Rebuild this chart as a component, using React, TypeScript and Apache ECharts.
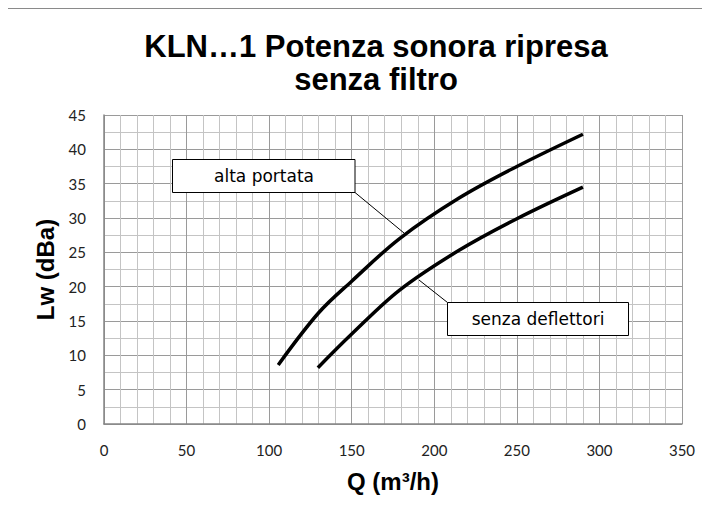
import React, { useEffect, useRef } from "react";
import * as echarts from "echarts";

const titleText = "KLN…1 Potenza sonora ripresa\nsenza filtro";
const xAxisTitle = "Q (m³/h)";
const yAxisTitle = "Lw (dBa)";

const altaQ = [105.5, 130, 150, 179, 215, 250, 290];
const altaLw = [8.6, 16.2, 20.8, 27.0, 32.9, 37.5, 42.2];

const senzaQ = [129.5, 150, 179, 215, 250, 290];
const senzaLw = [8.2, 13.1, 19.5, 25.3, 29.9, 34.5];

const labelAlta = "alta portata";
const labelSenza = "senza deflettori";

export default function App() {
  const ref = useRef<HTMLDivElement>(null);
  useEffect(() => {
    if (!ref.current) return;
    const chart = echarts.init(ref.current, undefined, { renderer: "svg" });
    const pts = (xs: number[], ys: number[]) => xs.map((x, i) => [x, ys[i]]);
    const labelFont = "Liberation Sans, Arial, sans-serif";
    chart.setOption({
      animation: false,
      backgroundColor: "#ffffff",
      title: {
        text: titleText,
        left: 376,
        top: 30,
        padding: 0,
        textAlign: "center",
        textStyle: {
          fontFamily: labelFont,
          fontWeight: "bold",
          fontSize: 31,
          lineHeight: 33,
          color: "#000",
        },
      },
      grid: { left: 104, right: 28, top: 115, bottom: 84 },
      xAxis: {
        type: "value",
        min: 0,
        max: 350,
        interval: 50,
        name: xAxisTitle,
        nameLocation: "middle",
        nameGap: 45,
        nameTextStyle: { fontFamily: labelFont, fontWeight: "bold", fontSize: 24, color: "#000" },
        axisLine: { show: true, lineStyle: { color: "#868686", width: 1.5 } },
        axisTick: { show: false },
        axisLabel: { fontFamily: "Lato, sans-serif", fontSize: 15, color: "#222", margin: 18 },
        splitLine: { show: true, lineStyle: { color: "#9a9a9a", width: 1 } },
        minorTick: { show: false, splitNumber: 5 },
        minorSplitLine: { show: true, lineStyle: { color: "#c4c4c4", width: 1 } },
      },
      yAxis: {
        type: "value",
        min: 0,
        max: 45,
        interval: 5,
        name: yAxisTitle,
        nameLocation: "middle",
        nameGap: 47,
        nameTextStyle: { fontFamily: labelFont, fontWeight: "bold", fontSize: 24, color: "#000" },
        axisLine: { show: true, lineStyle: { color: "#868686", width: 1.5 } },
        axisTick: { show: false },
        axisLabel: { fontFamily: "Lato, sans-serif", fontSize: 15, color: "#222", margin: 18 },
        splitLine: { show: true, lineStyle: { color: "#9a9a9a", width: 1 } },
        minorTick: { show: false, splitNumber: 2 },
        minorSplitLine: { show: true, lineStyle: { color: "#c4c4c4", width: 1 } },
      },
      series: [
        {
          type: "line",
          name: labelAlta,
          data: pts(altaQ, altaLw),
          smooth: 0.35,
          showSymbol: false,
          symbol: "none",
          lineStyle: { color: "#000", width: 3.5 },
          z: 5,
        },
        {
          type: "line",
          name: labelSenza,
          data: pts(senzaQ, senzaLw),
          smooth: 0.35,
          showSymbol: false,
          symbol: "none",
          lineStyle: { color: "#000", width: 3.5 },
          z: 5,
        },
      ],
      graphic: [
        {
          type: "rect",
          shape: { x: 4.5, y: 8.5, width: 702, height: 520 },
          style: { fill: "none", stroke: "#8a8a8a", lineWidth: 1 },
          silent: true,
          z: 0,
        },
        {
          type: "line",
          shape: { x1: 355, y1: 192.5, x2: 404, y2: 233 },
          style: { stroke: "#000", lineWidth: 1 },
          z: 10,
        },
        {
          type: "rect",
          shape: { x: 172.5, y: 159.5, width: 182.5, height: 33 },
          style: { fill: "#fff", stroke: "#000", lineWidth: 1 },
          z: 11,
        },
        {
          type: "text",
          x: 264,
          y: 176,
          style: {
            text: labelAlta,
            fill: "#000",
            font: "17px DejaVu Sans, sans-serif",
            align: "center",
            verticalAlign: "middle",
          },
          z: 12,
        },
        {
          type: "line",
          shape: { x1: 447.5, y1: 302.5, x2: 419, y2: 280 },
          style: { stroke: "#000", lineWidth: 1 },
          z: 10,
        },
        {
          type: "rect",
          shape: { x: 447.5, y: 302.5, width: 181, height: 33 },
          style: { fill: "#fff", stroke: "#000", lineWidth: 1 },
          z: 11,
        },
        {
          type: "text",
          x: 538,
          y: 319,
          style: {
            text: labelSenza,
            fill: "#000",
            font: "17px DejaVu Sans, sans-serif",
            align: "center",
            verticalAlign: "middle",
          },
          z: 12,
        },
      ],
    });
    return () => chart.dispose();
  }, []);
  return <div ref={ref} style={{ width: 710, height: 508, margin: -8 }} />;
}
